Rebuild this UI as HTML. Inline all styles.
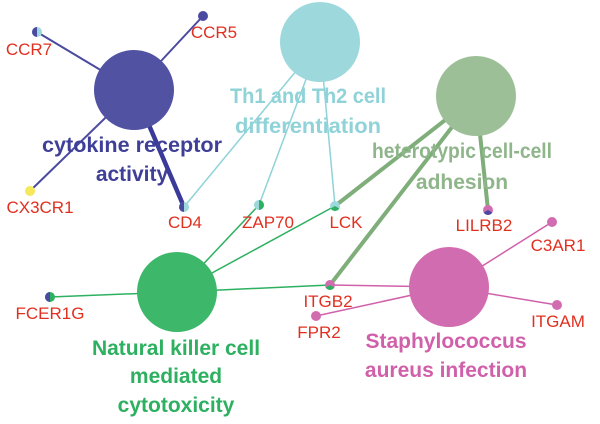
<!DOCTYPE html>
<html><head><style>body{margin:0;background:#fff}svg{display:block}text{font-family:"Liberation Sans",Arial,sans-serif}</style></head><body>
<svg width="600" height="424" viewBox="0 0 600 424">
<g fill="none">
<line x1="134" y1="90" x2="37" y2="32" stroke="#4a4aa0" stroke-width="2"/>
<line x1="134" y1="90" x2="203" y2="16" stroke="#4a4aa0" stroke-width="2"/>
<line x1="134" y1="90" x2="30" y2="191" stroke="#4a4aa0" stroke-width="2"/>
<line x1="134" y1="90" x2="184" y2="207" stroke="#3a3a9a" stroke-width="4.5"/>
<line x1="320" y1="42" x2="184" y2="207" stroke="#8fd3d8" stroke-width="1.5"/>
<line x1="320" y1="42" x2="259" y2="205" stroke="#8fd3d8" stroke-width="1.5"/>
<line x1="320" y1="42" x2="335" y2="206" stroke="#8fd3d8" stroke-width="1.5"/>
<line x1="476" y1="96" x2="335" y2="206" stroke="#7fae7a" stroke-width="4"/>
<line x1="476" y1="96" x2="330" y2="285" stroke="#7fae7a" stroke-width="4"/>
<line x1="476" y1="96" x2="488" y2="210" stroke="#7fae7a" stroke-width="4"/>
<line x1="177" y1="292" x2="259" y2="205" stroke="#2db060" stroke-width="1.5"/>
<line x1="177" y1="292" x2="335" y2="206" stroke="#2db060" stroke-width="1.5"/>
<line x1="177" y1="292" x2="50" y2="297" stroke="#2db060" stroke-width="1.5"/>
<line x1="177" y1="292" x2="330" y2="285" stroke="#2db060" stroke-width="1.5"/>
<line x1="449" y1="287" x2="330" y2="285" stroke="#d060aa" stroke-width="1.5"/>
<line x1="449" y1="287" x2="552" y2="222" stroke="#d060aa" stroke-width="1.5"/>
<line x1="449" y1="287" x2="557" y2="305" stroke="#d060aa" stroke-width="1.5"/>
<line x1="449" y1="287" x2="316" y2="316" stroke="#d060aa" stroke-width="1.5"/>
</g>
<circle cx="134" cy="90" r="40" fill="#5152a2"/>
<circle cx="320" cy="42" r="40" fill="#9dd8dc"/>
<circle cx="476" cy="96" r="40" fill="#9dbf98"/>
<circle cx="177" cy="292" r="40" fill="#3db86a"/>
<circle cx="449" cy="287" r="40" fill="#d26cb0"/>
<circle cx="37" cy="32" r="5" fill="#9dd8dc"/><path d="M37 27A5 5 0 0 0 37 37Z" fill="#4a4aa0"/>
<circle cx="203" cy="16" r="5" fill="#4a4aa0"/>
<circle cx="30" cy="191" r="5" fill="#f5e85a"/>
<circle cx="184" cy="207" r="5" fill="#9dd8dc"/><path d="M184 202A5 5 0 0 0 184 212Z" fill="#4a4aa0"/>
<circle cx="259" cy="205" r="5" fill="#9dd8dc"/><path d="M259 200A5 5 0 0 1 259 210Z" fill="#2db060"/>
<circle cx="335" cy="206" r="5" fill="#9dd8dc"/><path d="M335 206L339.3 208.5A5 5 0 0 1 330.7 208.5Z" fill="#2db060"/>
<circle cx="488" cy="210" r="5" fill="#d26cb0"/><path d="M488 210L492.3 212.5A5 5 0 0 1 483.7 212.5Z" fill="#4a4aa0"/>
<circle cx="552" cy="222" r="5" fill="#d26cb0"/>
<circle cx="50" cy="297" r="5" fill="#2db060"/><path d="M50 292A5 5 0 0 0 50 302Z" fill="#4a4aa0"/>
<circle cx="330" cy="285" r="5" fill="#d26cb0"/><path d="M330 285L334.3 287.5A5 5 0 0 1 325.7 287.5Z" fill="#2db060"/>
<circle cx="557" cy="305" r="5" fill="#d26cb0"/>
<circle cx="316" cy="316" r="5" fill="#d26cb0"/>
<g font-size="17" fill="#e03020" text-anchor="middle">
<text x="29" y="55">CCR7</text>
<text x="214" y="38">CCR5</text>
<text x="40" y="213">CX3CR1</text>
<text x="185" y="228">CD4</text>
<text x="268" y="228">ZAP70</text>
<text x="346" y="228">LCK</text>
<text x="484" y="231">LILRB2</text>
<text x="558" y="251">C3AR1</text>
<text x="50" y="319">FCER1G</text>
<text x="328" y="307">ITGB2</text>
<text x="558" y="327">ITGAM</text>
<text x="319" y="338">FPR2</text>
</g>
<g font-size="21" font-weight="bold" text-anchor="middle">
<text x="132" y="152" fill="#3f3f98" textLength="180" lengthAdjust="spacingAndGlyphs">cytokine receptor</text>
<text x="132" y="181" fill="#3f3f98">activity</text>
<text x="308" y="103" fill="#8fd3d8" textLength="156" lengthAdjust="spacingAndGlyphs">Th1 and Th2 cell</text>
<text x="308" y="133" fill="#8fd3d8" textLength="146" lengthAdjust="spacingAndGlyphs">differentiation</text>
<text x="462" y="158" fill="#8fb58a" textLength="180" lengthAdjust="spacingAndGlyphs">heterotypic cell-cell</text>
<text x="462" y="189" fill="#8fb58a">adhesion</text>
<text x="176" y="355" fill="#2db060">Natural killer cell</text>
<text x="176" y="383" fill="#2db060">mediated</text>
<text x="176" y="412" fill="#2db060">cytotoxicity</text>
<text x="446" y="348" fill="#d060aa">Staphylococcus</text>
<text x="446" y="377" fill="#d060aa">aureus infection</text>
</g>
</svg>
</body></html>
